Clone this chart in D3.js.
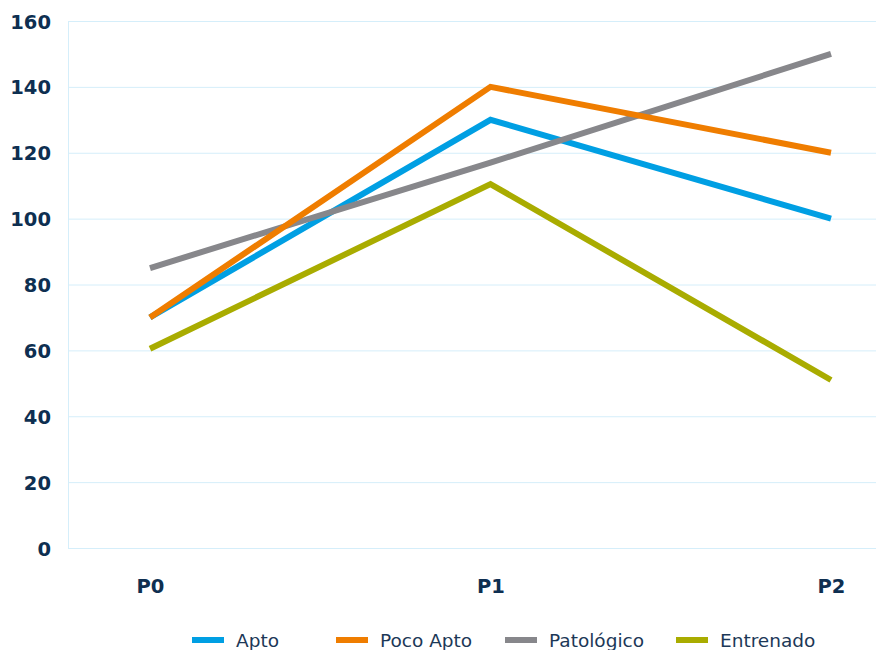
<!DOCTYPE html>
<html>
<head>
<meta charset="utf-8">
<script src="https://cdn.jsdelivr.net/npm/d3@7"></script>
<style>
  html, body { margin: 0; padding: 0; background: #ffffff; }
  svg { display: block; }
</style>
</head>
<body>
<svg id="chart" width="876" height="650"></svg>
<script>
// Periods on the x axis
const periods = ["P0", "P1", "P2"];

// Series values per period
const apto       = [70, 130, 100];
const pocoApto   = [70, 140, 120];
const patologico = [85, 117, 150];
const entrenado  = [60.5, 110.5, 51];

// Series names and colours
const seriesNames  = ["Apto", "Poco Apto", "Patológico", "Entrenado"];
const seriesColors = ["#009fe3", "#ef7d00", "#87878b", "#a9ac00"];

// Y axis ticks
const yTicks = [0, 20, 40, 60, 80, 100, 120, 140, 160];

const seriesValues = [apto, pocoApto, patologico, entrenado];
const series = seriesNames.map((name, i) => ({
  name, color: seriesColors[i], values: seriesValues[i]
}));

const plot = { left: 68, right: 876, top: 21, bottom: 548 };
const textColor = "#0e2f51";

const svg = d3.select("#chart");

const x = d3.scalePoint().domain(periods).range([150, 831]);
const y = d3.scaleLinear().domain([0, 160]).range([plot.bottom, plot.top]);

// Horizontal gridlines
svg.append("g")
  .selectAll("line")
  .data(yTicks)
  .join("line")
  .attr("x1", plot.left).attr("x2", plot.right)
  .attr("y1", d => y(d) + 0.5).attr("y2", d => y(d) + 0.5)
  .attr("stroke", "#d5eefa").attr("stroke-width", 1);

// Left vertical rule
svg.append("line")
  .attr("x1", plot.left + 0.5).attr("x2", plot.left + 0.5)
  .attr("y1", plot.top).attr("y2", plot.bottom)
  .attr("stroke", "#d5eefa").attr("stroke-width", 1);

// Y axis labels
const yAxis = d3.axisLeft(y).tickValues(yTicks).tickSize(0).tickPadding(0);
const yg = svg.append("g").attr("transform", "translate(51,0)").call(yAxis);
yg.select(".domain").remove();
yg.selectAll("text")
  .attr("fill", textColor)
  .style("font-family", "'DejaVu Sans', sans-serif")
  .style("font-weight", "bold")
  .style("font-size", "19.5px")
  .attr("dy", "0.36em");

// X axis labels
const xAxis = d3.axisBottom(x).tickSize(0).tickPadding(0);
const xg = svg.append("g").attr("transform", "translate(0,579)").call(xAxis);
xg.select(".domain").remove();
xg.selectAll("text")
  .attr("fill", textColor)
  .style("font-family", "'DejaVu Sans', sans-serif")
  .style("font-weight", "bold")
  .style("font-size", "19.5px")
  .attr("dy", "0.72em");

// Lines
const line = d3.line()
  .x((d, i) => x(periods[i]))
  .y(d => y(d));

const drawOrder = ["Apto", "Patológico", "Poco Apto", "Entrenado"];
svg.append("g")
  .selectAll("path")
  .data(drawOrder.map(n => series.find(s => s.name === n)))
  .join("path")
  .attr("d", d => line(d.values))
  .attr("fill", "none")
  .attr("stroke", d => d.color)
  .attr("stroke-width", 6)
  .attr("stroke-linejoin", "miter")
  .attr("stroke-linecap", "butt");

// Legend
const legendX = [192, 336, 505, 676];
const legendY = 640;
const lg = svg.append("g")
  .selectAll("g")
  .data(series)
  .join("g")
  .attr("transform", (d, i) => `translate(${legendX[i]},${legendY})`);
lg.append("rect")
  .attr("x", 0).attr("y", -3)
  .attr("width", 32).attr("height", 6)
  .attr("fill", d => d.color);
lg.append("text")
  .attr("x", 44).attr("y", 0)
  .attr("dy", "0.36em")
  .attr("fill", "#1c3857")
  .style("font-family", "'DejaVu Sans', sans-serif")
  .style("font-size", "18.5px")
  .text(d => d.name);
</script>
</body>
</html>
